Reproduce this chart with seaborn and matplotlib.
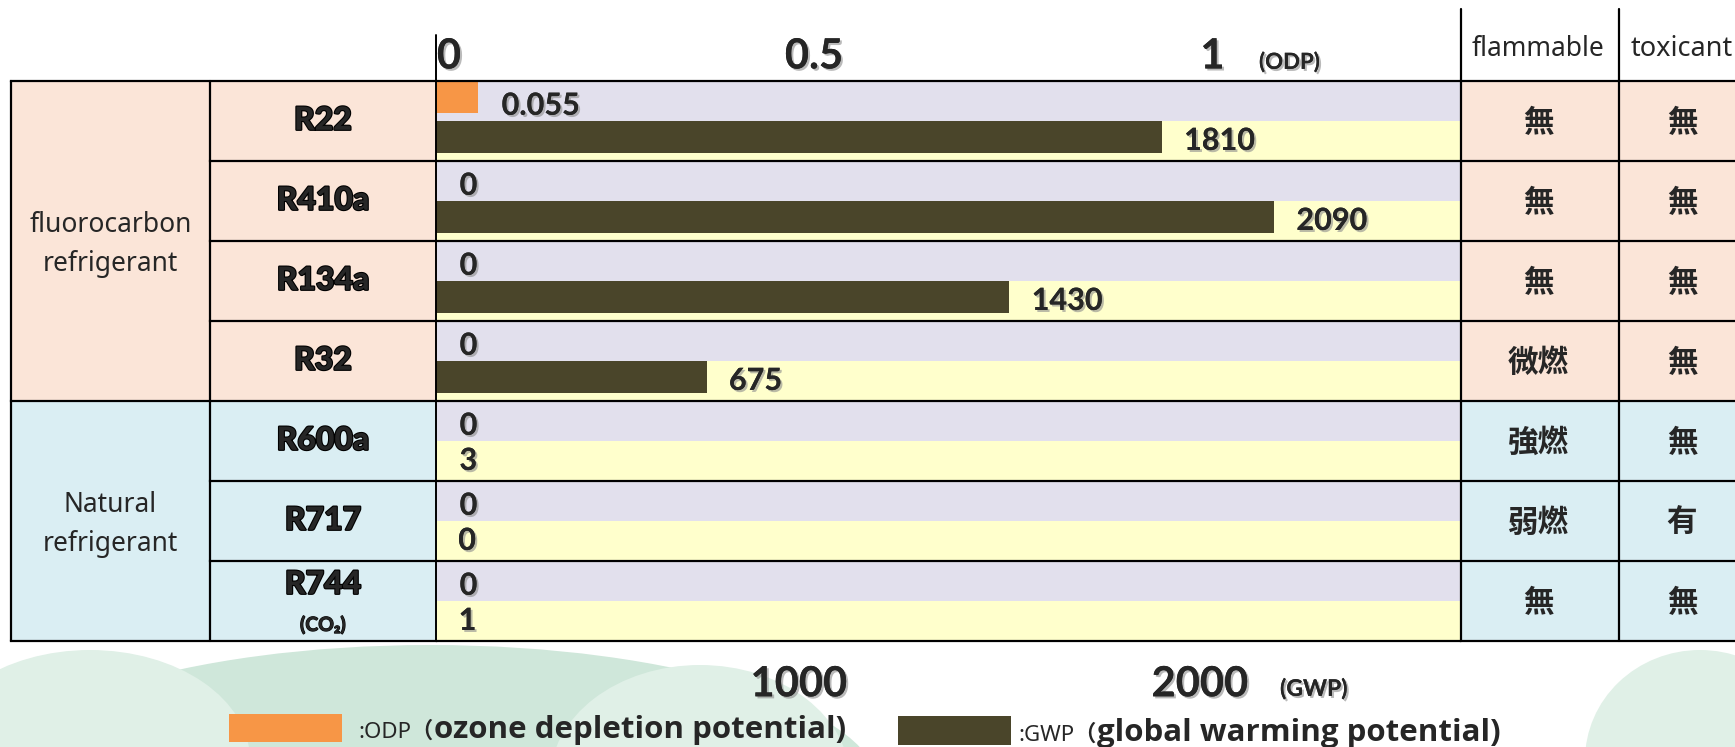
import numpy as np
import pandas as pd
import matplotlib
matplotlib.use("Agg")
import matplotlib.pyplot as plt
import matplotlib.patheffects as pe
import matplotlib.transforms as mtrans
from matplotlib.patches import Rectangle, Ellipse
import seaborn as sns

# ---------------- data ----------------
refrigerants = ["R22", "R410a", "R134a", "R32", "R600a", "R717", "R744"]
group_names = [["fluorocarbon", "refrigerant"], ["Natural", "refrigerant"]]
group_sizes = [4, 3]
odp_values = [0.055, 0, 0, 0, 0, 0, 0]
gwp_values = [1810, 2090, 1430, 675, 3, 0, 1]
odp_text = ["0.055", "0", "0", "0", "0", "0", "0"]
gwp_text = ["1810", "2090", "1430", "675", "3", "0", "1"]
flammable = ["無", "無", "無", "微燃", "強燃", "弱燃", "無"]
toxicant = ["無", "無", "無", "無", "無", "有", "無"]
odp_ticks = [0, 0.5, 1]
odp_ticklabels = ["0", "0.5", "1"]
gwp_ticks = [1000, 2000]
gwp_ticklabels = ["1000", "2000"]
column_headers = ["flammable", "toxicant"]
legend_short = [":ODP（", ":GWP（"]
legend_long = ["ozone depletion potential)", "global warming potential)"]

# ---------------- style ----------------
ODP_COLOR = "#F79646"
GWP_COLOR = "#4A452A"
LAVENDER = "#E2E0ED"
YELLOW = "#FFFFCC"
PEACH = "#FBE5D8"
BLUE = "#DAEEF3"
GREEN1 = "#CFE7DA"
GREEN2 = "#E0F0E7"
group_colors = [PEACH, BLUE]

sns.set_theme(style="white")
plt.rcParams["font.family"] = ["Lato", "Noto Sans CJK JP", "DejaVu Sans"]

W, H = 1735, 747
TOP, BOT = 81, 641
X0, X1 = 436, 1461
XG, XN, XF, XT = 11, 210, 1461, 1619
NROW = len(refrigerants)
ROWPX = (BOT - TOP) / NROW
LW = 1.6


def ry(py):
    return (py - TOP) / ROWPX


shadow = [pe.withSimplePatchShadow(offset=(1.5, -1.5), shadow_rgbFace=(0.55, 0.55, 0.55), alpha=0.6), pe.Normal()]
heavy = [pe.withStroke(linewidth=1.6, foreground="black")]

fig = plt.figure(figsize=(W / 100, H / 100), dpi=100)
fig.patch.set_facecolor("white")

# background decoration (pale tree silhouettes)
bg = fig.add_axes([0, 0, 1, 1])
bg.set_zorder(-1)
bg.set_xlim(0, W)
bg.set_ylim(H, 0)
bg.axis("off")
for (cx, cy, w, h, c) in [(430, 790, 900, 290, GREEN1), (90, 760, 320, 220, GREEN2),
                          (700, 780, 300, 230, GREEN2), (1700, 760, 230, 220, GREEN2)]:
    bg.add_patch(Ellipse((cx, cy), w, h, color=c, lw=0))

# table axes (pixel x, row-unit y)
tab = fig.add_axes([0, 1 - BOT / H, 1, (BOT - TOP) / H])
tab.set_zorder(0)
tab.set_xlim(0, W)
tab.set_ylim(NROW, 0)
tab.axis("off")

# cell fills
r0 = 0
for g, n in enumerate(group_sizes):
    col = group_colors[g]
    tab.add_patch(Rectangle((XG, r0), XN - XG, n, color=col, lw=0))
    for i in range(r0, r0 + n):
        tab.add_patch(Rectangle((XN, i), X0 - XN, 1, color=col, lw=0))
        tab.add_patch(Rectangle((XF, i), XT - XF, 1, color=col, lw=0))
        tab.add_patch(Rectangle((XT, i), W - XT, 1, color=col, lw=0))
    mid = r0 + n / 2
    tab.text((XG + XN) / 2, mid - 0.24, group_names[g][0], ha="center", va="center_baseline",
             fontsize=19, family=["Noto Sans", "DejaVu Sans"])
    tab.text((XG + XN) / 2, mid + 0.24, group_names[g][1], ha="center", va="center_baseline",
             fontsize=19, family=["Noto Sans", "DejaVu Sans"])
    r0 += n

# row labels and property cells
for i, name in enumerate(refrigerants):
    if name == "R744":
        tab.text((XN + X0) / 2, i + 0.26, name, ha="center", va="center_baseline",
                 fontsize=23, fontweight="black", path_effects=heavy)
        tab.text((XN + X0) / 2, i + 0.78, "(CO₂)", ha="center", va="center_baseline",
                 fontsize=14, fontweight="bold", family=["Lato", "DejaVu Sans"],
                 path_effects=[pe.withStroke(linewidth=0.8, foreground="black")])
    else:
        tab.text((XN + X0) / 2, i + 0.46, name, ha="center", va="center_baseline",
                 fontsize=23, fontweight="black", path_effects=heavy)
    tab.text(1538, i + 0.48, flammable[i], ha="center", va="center_baseline",
             fontsize=22, fontweight="bold", family=["Noto Sans CJK JP"])
    tab.text(1682, i + 0.48, toxicant[i], ha="center", va="center_baseline",
             fontsize=22, fontweight="bold", family=["Noto Sans CJK JP"])

# header texts
tab.text(1538, ry(46), column_headers[0], ha="center", va="center_baseline", fontsize=19,
         family=["Noto Sans", "DejaVu Sans"], clip_on=False)
tab.text(1631, ry(46), column_headers[1], ha="left", va="center_baseline", fontsize=19.5,
         family=["Noto Sans", "DejaVu Sans"], clip_on=False)

# table lines
for r in range(NROW + 1):
    left = XG if r in (0, group_sizes[0], NROW) else XN
    tab.plot([left, X0], [r, r], color="black", lw=LW, clip_on=False, solid_capstyle="projecting")
    tab.plot([X1, W], [r, r], color="black", lw=LW, clip_on=False, solid_capstyle="projecting")
for x in (XG, XN):
    tab.plot([x, x], [0, NROW], color="black", lw=LW, clip_on=False)
tab.plot([XT, XT], [ry(9), NROW], color="black", lw=LW, clip_on=False)

# ---------------- bar area ----------------
df = pd.DataFrame({"name": refrigerants, "odp": odp_values, "gwp": gwp_values})
df["row"] = np.arange(NROW)
df["odp_pos"] = df["row"] + 0.2
df["gwp_pos"] = df["row"] + 0.7

ax = fig.add_axes([X0 / W, 1 - BOT / H, (X1 - X0) / W, (BOT - TOP) / H])
ax.set_zorder(1)
for i in range(NROW):
    ax.axhspan(i, i + 0.5, color=LAVENDER, lw=0, zorder=0)
    ax.axhspan(i + 0.5, i + 1, color=YELLOW, lw=0, zorder=0)

sns.barplot(data=df, x="gwp", y="gwp_pos", orient="h", native_scale=True, width=0.4,
            color=GWP_COLOR, saturation=1, linewidth=0, ax=ax)

ax2 = ax.twiny()
ax2.set_zorder(2)
sns.barplot(data=df, x="odp", y="odp_pos", orient="h", native_scale=True, width=0.4,
            color=ODP_COLOR, saturation=1, linewidth=0, ax=ax2)

ax.set_xlim(0, 2556)
ax2.set_xlim(0, 1.3425)
ax.set_ylim(NROW, 0)
ax2.set_ylim(NROW, 0)

for a in (ax, ax2):
    a.set_xlabel("")
    a.set_ylabel("")
    a.set_yticks([])
    for s in a.spines.values():
        s.set_visible(False)

for r in range(NROW + 1):
    ax2.axhline(r, color="black", lw=LW, zorder=5, clip_on=False)
ax2.plot([0, 0], [0, 1 + (TOP - 35) / (BOT - TOP)], transform=ax2.transAxes, color="black",
         lw=1.4, clip_on=False, zorder=5)
ax2.plot([1, 1], [0, 1 + (TOP - 9) / (BOT - TOP)], transform=ax2.transAxes, color="black",
         lw=LW, clip_on=False, zorder=5)

# value labels
for i in range(NROW):
    ax.annotate(gwp_text[i], xy=(gwp_values[i], df["gwp_pos"][i]), xytext=(16, -1),
                textcoords="offset points", ha="left", va="center_baseline", fontsize=22,
                fontweight="bold", path_effects=shadow, annotation_clip=False, zorder=6)
    ax2.annotate(odp_text[i], xy=(odp_values[i], df["odp_pos"][i]), xytext=(17, -4.5),
                 textcoords="offset points", ha="left", va="center_baseline", fontsize=22,
                 fontweight="bold", path_effects=shadow, annotation_clip=False, zorder=6)

# axis ticks
ax.set_xticks(gwp_ticks, labels=gwp_ticklabels, fontsize=30, fontweight="bold")
ax.tick_params(axis="x", bottom=True, length=0, pad=17.5)
for lab in ax.get_xticklabels():
    lab.set_ha("right")
    lab.set_path_effects(shadow)
    lab.set_transform(lab.get_transform() + mtrans.ScaledTranslation(10 / 100, 0, fig.dpi_scale_trans))

ax2.set_xticks(odp_ticks, labels=odp_ticklabels, fontsize=30, fontweight="bold")
ax2.tick_params(axis="x", top=True, length=0, pad=4)
for lab in ax2.get_xticklabels():
    lab.set_ha("right")
    lab.set_path_effects(shadow)
    lab.set_transform(lab.get_transform() + mtrans.ScaledTranslation(25 / 100, 0, fig.dpi_scale_trans))

tab.text(1259, ry(60), "(ODP)", ha="left", va="center_baseline", fontsize=16, fontweight="bold",
         clip_on=False, path_effects=shadow)
tab.text(1280, ry(687), "(GWP)", ha="left", va="center_baseline", fontsize=16.5, fontweight="bold",
         clip_on=False, path_effects=shadow)

# ---------------- legend ----------------
leg_specs = [(229, 714, 742, 358, 738, ODP_COLOR), (898, 716, 745, 1018, 741, GWP_COLOR)]
for k, (rx, rt, rb, tx, tb, col) in enumerate(leg_specs):
    tab.add_patch(Rectangle((rx, ry(rt)), 113, ry(rb) - ry(rt), color=col, lw=0, clip_on=False))
    t1 = tab.text(tx, ry(tb), legend_short[k], ha="left", va="baseline", fontsize=16,
                  fontweight="bold", family=["Noto Sans", "Noto Sans CJK JP"], clip_on=False)
    tab.annotate(legend_long[k], xy=(1, 0), xycoords=t1, xytext=(0.5, -1.5),
                 textcoords="offset points", ha="left", va="bottom", fontsize=22.5,
                 fontweight="bold", family=["Open Sans", "Noto Sans CJK JP"], annotation_clip=False)

fig.savefig("out.png", dpi=100, facecolor="white")
